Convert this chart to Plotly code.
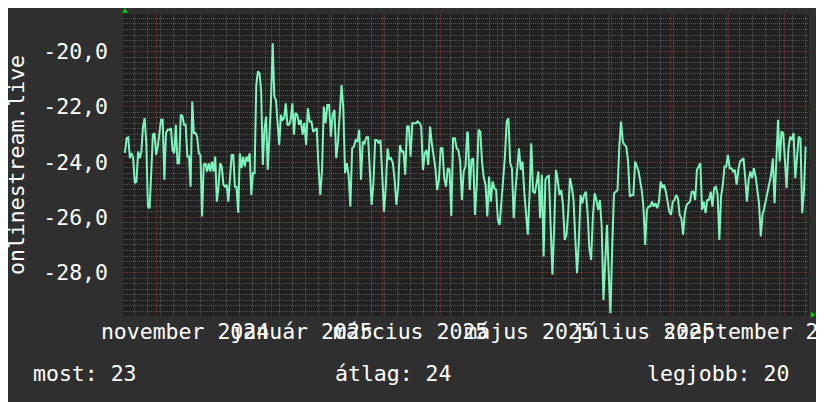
import pandas as pd
import plotly.graph_objects as go

# ---- data ----
seg1_values = [-23.67, -23.13, -23.10, -23.86, -23.67, -23.86, -24.76, -24.71, -23.62, -23.86,
               -23.62, -22.71, -22.41, -23.32, -25.61, -25.67, -24.40, -23.01, -22.95, -23.74,
               -23.44, -23.01, -22.47, -22.47, -24.64, -22.95, -22.83, -22.83, -22.77, -23.56,
               -23.68, -22.65, -24.04, -24.04, -22.29, -22.33, -22.65, -22.65, -23.80, -23.80,
               -24.89, -21.81, -22.95, -22.95, -23.08, -23.68, -23.74, -25.97, -24.10, -24.04,
               -24.34, -24.04, -24.34, -23.98, -24.34, -23.80, -25.43, -24.89, -24.04, -24.16,
               -24.82, -24.89, -24.82, -25.43, -24.52, -23.74, -23.74, -24.89, -24.89, -25.83,
               -23.68, -24.22, -23.80, -24.16, -23.80, -23.98, -23.68, -25.19, -24.40, -24.40,
               -21.21, -20.72, -20.78, -21.45, -24.10, -22.83, -22.35, -24.28, -23.08, -21.75,
               -19.70, -21.63, -21.75, -22.71, -23.38, -22.29, -22.47, -22.41, -21.87, -22.65,
               -22.65, -22.47, -21.87, -23.01]
seg2_values = [-22.22, -22.29, -22.65, -22.47, -23.01, -22.58, -23.38, -22.05, -22.53, -22.53,
               -22.90, -22.83, -22.77, -24.16, -25.19, -24.28, -21.99, -22.59, -21.93, -21.93,
               -23.08, -22.29, -22.11, -23.86, -23.26, -22.23, -21.21, -22.05, -24.40, -24.04,
               -24.46, -25.61, -23.50, -23.44, -23.20, -23.26, -22.83, -24.64, -23.26, -23.32,
               -23.10, -23.10, -24.58, -25.55, -24.76, -23.20, -23.20, -23.32, -23.20, -24.40,
               -25.79, -24.89, -23.50, -23.92, -23.86, -24.04, -24.64, -25.55, -24.89, -23.38,
               -23.62, -23.62, -24.46, -22.71, -22.71, -23.80, -22.59, -22.59, -22.59, -22.53,
               -22.59, -22.71, -24.28, -23.68, -23.56, -24.10, -22.71, -23.32, -23.74, -24.22,
               -25.01, -24.64, -23.50, -23.50, -24.58, -24.89, -24.22, -24.28, -25.95, -23.14,
               -23.14, -23.50, -23.56, -23.98, -25.37, -24.34, -24.16, -22.90]
seg3_values = [-22.95, -25.01, -23.92, -23.86, -25.91, -24.82, -22.83, -22.89, -23.98, -24.58,
               -24.82, -25.97, -24.52, -25.43, -24.70, -24.94, -25.01, -26.09, -26.27, -25.25,
               -24.64, -23.80, -22.53, -22.41, -24.04, -24.22, -26.03, -25.01, -24.28, -23.50,
               -24.28, -23.98, -25.07, -25.73, -26.63, -25.19, -23.32, -25.07, -25.13, -24.76,
               -24.34, -26.03, -24.46, -27.42, -24.64, -24.52, -24.50, -26.33, -28.08, -26.33,
               -24.28, -24.64, -25.19, -25.01, -25.55, -26.82, -26.63, -25.79, -24.58, -24.89,
               -25.37, -26.75, -28.02, -26.88, -25.19, -25.49, -25.19, -25.07, -25.85, -27.12,
               -27.54, -25.97, -25.13, -25.37, -25.73, -25.37, -26.33, -28.99, -27.54, -26.27,
               -28.02, -29.47, -27.06, -25.13, -25.07, -25.01, -23.44, -22.53, -23.26, -23.38,
               -23.44, -23.98, -25.25, -25.19, -25.19, -23.98, -24.16, -24.34]
seg4_values = [-25.01, -25.60, -27.00, -25.73, -25.61, -25.61, -25.43, -25.61, -25.49, -25.67,
               -25.43, -24.70, -24.94, -24.82, -25.07, -25.37, -25.79, -25.91, -25.43, -25.37,
               -25.19, -25.31, -25.91, -26.03, -26.63, -25.85, -25.55, -25.49, -25.43, -25.07,
               -25.07, -25.37, -24.28, -24.16, -24.04, -25.73, -25.43, -25.85, -25.37, -25.37,
               -25.07, -25.61, -24.94, -24.89, -25.19, -26.82, -25.25, -24.82, -24.16, -24.16,
               -23.74, -24.22, -24.22, -24.34, -24.28, -24.82, -24.28, -23.98, -23.92, -23.86,
               -24.58, -25.43, -24.64, -24.34, -24.58, -24.22, -24.52, -25.13, -25.49, -26.69,
               -25.91, -25.67, -25.37, -25.07, -24.64, -24.46, -23.86, -25.49, -23.98, -22.47,
               -23.98, -22.89, -22.95, -23.98, -24.94, -23.56, -23.08, -23.20, -22.95, -24.58,
               -23.80, -23.08, -23.14, -25.85, -25.07, -23.44]
seg_starts = ["2024-10-15 01:00", "2025-01-13 18:00", "2025-04-15 12:00", "2025-07-16 22:00"]
seg_ends = ["2025-01-12 23:00", "2025-04-15 03:00", "2025-07-15 07:00", "2025-10-12 03:00"]

x_range = ["2024-10-14 00:00", "2025-10-13 22:00"]
y_range = [-29.57, -18.64]
y_ticks = [-28, -26, -24, -22, -20]
y_tick_labels = ["-28,0", "-26,0", "-24,0", "-22,0", "-20,0"]
x_label_dates = ["2024-11-16", "2025-01-17", "2025-03-16", "2025-05-18", "2025-07-18", "2025-09-18"]
x_label_texts = ["november 2024", "január 2025", "március 2025", "május 2025",
                 "július 2025", "szeptember 2025"]
y_title = "onlinestream.live"
legend_texts = ["most: 23", "átlag: 24", "legjobb: 20"]

# ---- build series ----
dates, values = [], []
for s, e, vals in zip(seg_starts, seg_ends, [seg1_values, seg2_values, seg3_values, seg4_values]):
    dates += list(pd.date_range(s, e, periods=len(vals)))
    values += vals

# grid positions: monthly major / weekly minor on x, 2.0 major / 0.2 minor on y
month_starts = pd.date_range("2024-11-01", "2025-10-01", freq="MS")
week_lines = [d for d in pd.date_range("2024-10-13", "2025-10-19", freq="7D") if d.day != 1]
y_minor = [round(-29.4 + 0.2 * i, 1) for i in range(54)]
y_minor = [v for v in y_minor if abs(v - round(v / 2) * 2) > 1e-6]

FONT = "DejaVu Sans Mono"
FS = 21.5
TXT = "#ffffff"
PAPER = "#2f2f2f"
PLOT = "#212121"
MINOR = "rgba(255,255,255,0.24)"
MAJOR = "rgba(200,60,60,0.28)"
DOT = "1px,1px"
LINE = "#7df5bd"
ARROW = "#00d000"

fig = go.Figure()
fig.add_trace(go.Scatter(x=dates, y=values, mode="lines",
                         line=dict(color=LINE, width=2), showlegend=False,
                         hoverinfo="skip"))
fig.add_trace(go.Scatter(x=dates, y=values, mode="lines", xaxis="x2",
                         line=dict(color="rgba(0,0,0,0)", width=0), showlegend=False,
                         hoverinfo="skip"))

# page body has an 8px margin: figure origin sits at screen (8, 8)
OFF = 8
W, H = 824 - OFF, 402 - OFF
PL, PR, PT, PB = 123, 809, 14, 316          # plot box in screen pixels
L, T = PL - OFF, PT - OFF
R, B = W - (PR - OFF), H - (PB - OFF)
pw, ph = PR - PL, PB - PT


def px(X):
    return (X - PL) / pw


def py(Y):
    return (PB - Y) / ph


fig.update_layout(
    width=W, height=H,
    margin=dict(l=L, r=R, t=T, b=B, pad=0, autoexpand=False),
    paper_bgcolor=PAPER, plot_bgcolor=PLOT,
    font=dict(family=FONT, size=FS, color=TXT),
    xaxis=dict(type="date", range=x_range, showticklabels=False, ticks="",
               tickmode="array", tickvals=list(month_starts),
               showgrid=True, gridcolor=MAJOR, griddash="solid", gridwidth=1,
               minor=dict(tickmode="array", tickvals=week_lines,
                          showgrid=True, gridcolor=MINOR, griddash=DOT, gridwidth=1, ticks=""),
               zeroline=False, showline=False, fixedrange=True, automargin=False),
    xaxis2=dict(type="date", range=x_range, overlaying="x", side="bottom", anchor="y",
                tickmode="array", tickvals=x_label_dates, ticktext=x_label_texts,
                tickangle=0, ticks="", showgrid=False, zeroline=False, showline=False,
                ticklabeloverflow="allow", ticklabelstandoff=0, automargin=False,
                tickfont=dict(family=FONT, size=FS, color=TXT)),
    yaxis=dict(range=y_range, tickmode="array", tickvals=y_ticks, ticktext=y_tick_labels,
               ticks="", showgrid=True, gridcolor=MAJOR, griddash="solid", gridwidth=1,
               minor=dict(tickmode="array", tickvals=y_minor, showgrid=True,
                          gridcolor=MINOR, griddash=DOT, gridwidth=1, ticks=""),
               zeroline=False, showline=False, ticklabelstandoff=14, automargin=False,
               tickfont=dict(family=FONT, size=FS, color=TXT)),
    annotations=[
        dict(text=y_title, textangle=-90, x=px(16), y=0.5, xref="paper", yref="paper",
             xanchor="center", yanchor="middle", showarrow=False,
             font=dict(family=FONT, size=FS, color=TXT)),
        dict(text=legend_texts[0], x=px(31), y=py(373), xref="paper", yref="paper",
             xanchor="left", yanchor="middle", showarrow=False),
        dict(text=legend_texts[1], x=px(333), y=py(373), xref="paper", yref="paper",
             xanchor="left", yanchor="middle", showarrow=False),
        dict(text=legend_texts[2], x=px(791), y=py(373), xref="paper", yref="paper",
             xanchor="right", yanchor="middle", showarrow=False),
    ],
    shapes=[
        dict(type="path", xref="paper", yref="paper", line=dict(width=0), fillcolor=ARROW,
             path=f"M {px(122.3)} {py(12.8)} L {px(127.7)} {py(12.8)} L {px(125)} {py(8)} Z"),
        dict(type="path", xref="paper", yref="paper", line=dict(width=0), fillcolor=ARROW,
             path=f"M {px(810.7)} {py(312)} L {px(810.7)} {py(317.5)} L {px(816)} {py(314.7)} Z"),
    ],
)

fig.write_html("out.html")
